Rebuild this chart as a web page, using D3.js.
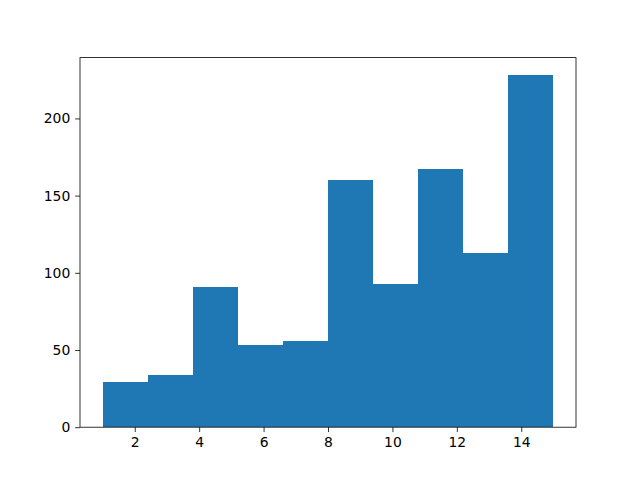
<!DOCTYPE html>
<html><head><meta charset="utf-8">
<script src="https://cdn.jsdelivr.net/npm/d3@7"></script>
<style>body{margin:0;background:#fff}</style>
</head><body>
<svg id="c" width="640" height="480"></svg>
<script>
const binEdges = [1, 2.4, 3.8, 5.2, 6.6, 8, 9.4, 10.8, 12.2, 13.6, 15];
const counts = [29, 34, 91, 53, 56, 160, 93, 167, 113, 228];
const xTicks = [2, 4, 6, 8, 10, 12, 14];
const yTicks = [0, 50, 100, 150, 200];

const svg = d3.select("#c");
const L = 80, R = 576, T = 57.6, B = 427.2;
const xr = binEdges[binEdges.length-1] - binEdges[0];
const x = d3.scaleLinear().domain([binEdges[0] - 0.05*xr, binEdges[binEdges.length-1] + 0.05*xr]).range([L, R]);
const y = d3.scaleLinear().domain([0, d3.max(counts)*1.05]).range([B, T]);

const data = counts.map((c,i)=>({x0:binEdges[i], x1:binEdges[i+1], c}));
svg.append("g").selectAll("rect").data(data).join("rect")
  .attr("x", d=>x(d.x0)).attr("width", d=>x(d.x1)-x(d.x0))
  .attr("y", d=>y(d.c)).attr("height", d=>B-y(d.c))
  .attr("fill", "#1f77b4").attr("shape-rendering","crispEdges");

const fs = "13.9px";
const xa = svg.append("g").attr("transform", `translate(0,${B})`)
  .call(d3.axisBottom(x).tickValues(xTicks).tickSize(4.86).tickPadding(4.86).tickFormat(d3.format("d")));
const ya = svg.append("g").attr("transform", `translate(${L},0)`)
  .call(d3.axisLeft(y).tickValues(yTicks).tickSize(4.86).tickPadding(4.86).tickFormat(d3.format("d")));
[xa, ya].forEach(a=>{
  a.select(".domain").remove();
  a.selectAll("line").attr("stroke","#000").attr("stroke-width",0.8);
  a.selectAll("text").attr("fill","#000").style("font-family","DejaVu Sans").style("font-size",fs);
});
svg.append("rect").attr("x",L).attr("y",T).attr("width",R-L).attr("height",B-T)
  .attr("fill","none").attr("stroke","#000").attr("stroke-width",0.8);
</script>
</body></html>
